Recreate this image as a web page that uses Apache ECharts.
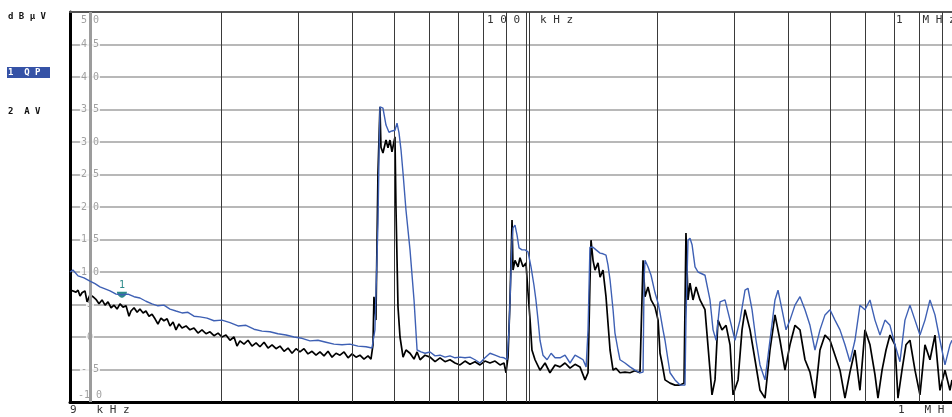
<!DOCTYPE html>
<html>
<head>
<meta charset="utf-8">
<script src="https://cdn.jsdelivr.net/npm/echarts@6/dist/echarts.min.js"></script>
<style>
  html, body { margin: 0; padding: 0; background: #fff; }
  #chart { width: 952px; height: 417px; }
</style>
</head>
<body>
<div id="chart"></div>
<script>
// Conducted emission scan, 9 kHz .. ~950 kHz, level in dBµV
// Each trace point: [frequency in kHz, level in dBµV]

// Quasi-peak trace (blue)
const qpTrace = [
  [9.00, 10.0], [9.14, 10.3], [9.39, 9.4], [9.69, 9.1], [10.00, 8.6], [10.27, 8.2], [10.54, 7.7], [10.83, 7.4],
  [11.12, 7.1], [11.48, 6.6], [11.84, 6.5], [12.23, 6.6], [12.62, 6.2], [13.02, 6.0], [13.44, 5.5], [13.88, 5.1],
  [14.32, 4.8], [14.78, 4.9], [15.26, 4.3], [15.75, 4.0], [16.26, 3.7], [16.78, 3.8], [17.32, 3.2], [17.88, 3.1],
  [18.56, 2.9], [19.25, 2.5], [20.08, 2.6], [20.95, 2.2], [21.86, 1.7], [22.80, 1.8], [23.78, 1.2], [24.81, 0.9],
  [25.87, 0.8], [26.99, 0.5], [28.16, 0.3], [29.38, 0.0], [30.65, -0.2], [31.96, -0.6], [33.34, -0.5], [34.78, -0.8],
  [36.28, -1.1], [37.85, -1.2], [39.47, -1.1], [41.18, -1.4], [42.96, -1.5], [44.34, -1.7], [45.04, 1.1], [45.52, 11.8],
  [45.77, 17.5], [46.01, 27.2], [46.25, 35.4], [46.74, 35.5], [46.99, 35.2], [47.75, 32.6], [48.51, 31.5], [49.28, 31.7],
  [50.07, 31.8], [50.61, 32.9], [51.15, 31.4], [51.69, 28.8], [52.25, 25.2], [53.07, 19.5], [54.21, 13.4], [55.37, 5.7],
  [56.27, -2.0], [57.45, -2.3], [58.69, -2.5], [60.26, -2.3], [61.88, -2.9], [63.52, -2.8], [65.21, -3.1], [66.96, -2.9],
  [68.74, -3.2], [70.58, -3.1], [72.48, -3.2], [74.40, -3.1], [76.41, -3.5], [78.45, -4.0], [80.54, -3.2], [82.70, -2.5],
  [84.93, -2.8], [87.19, -3.1], [89.05, -3.2], [90.48, -3.5], [91.44, 1.1], [91.93, 5.7], [92.91, 14.9], [93.40, 16.8],
  [94.38, 17.2], [95.38, 15.7], [96.40, 13.7], [97.94, 13.4], [99.51, 13.4], [101.1, 13.1], [102.7, 10.8], [104.3, 8.0],
  [105.4, 5.7], [106.6, 2.6], [107.7, -0.5], [109.4, -2.8], [111.8, -3.5], [114.2, -2.5], [116.6, -3.2], [119.7, -3.2],
  [122.9, -2.8], [126.2, -4.0], [129.6, -2.8], [133.0, -3.2], [135.2, -3.5], [137.4, -4.6], [138.8, 1.1], [140.2, 13.8],
  [142.5, 13.8], [144.8, 13.4], [147.9, 12.9], [150.2, 12.8], [152.6, 12.6], [154.2, 11.1], [155.9, 8.8], [158.4, 4.2],
  [160.0, 0.6], [162.6, -2.0], [164.3, -3.5], [168.7, -4.0], [173.2, -4.6], [177.8, -5.1], [182.6, -5.5], [185.6, -5.4],
  [186.6, 8.8], [187.5, 11.8], [190.5, 10.8], [193.6, 9.5], [197.7, 6.8], [200.9, 5.2], [203.0, 3.7], [206.2, 1.1],
  [208.4, -0.5], [211.7, -3.5], [214.0, -5.5], [219.7, -6.6], [225.6, -7.4], [231.6, -7.4], [232.8, 2.6], [235.3, 14.9],
  [237.8, 15.2], [240.4, 14.2], [244.2, 10.8], [248.1, 10.0], [250.7, 10.0], [257.4, 9.5], [264.3, 5.7], [268.6, 1.1],
  [272.9, -0.5], [278.7, 5.4], [286.1, 5.7], [293.8, 2.6], [301.6, -0.5], [309.7, 2.6], [318.0, 7.2], [323.0, 7.5],
  [330.0, 4.2], [337.0, -0.5], [344.2, -4.3], [353.4, -6.6], [362.8, -0.5], [372.5, 5.7], [378.5, 7.2], [386.6, 4.2],
  [394.9, 1.1], [403.2, 2.6], [414.0, 4.9], [425.1, 6.2], [436.5, 4.2], [448.1, 1.8], [460.1, -2.0], [472.4, 1.1],
  [485.1, 3.4], [498.1, 4.2], [511.4, 2.6], [525.1, 1.1], [539.1, -1.2], [553.5, -3.8], [568.3, -0.5], [583.5, 4.9],
  [599.1, 4.2], [615.2, 5.7], [631.6, 2.6], [648.5, 0.3], [665.9, 2.6], [683.7, 1.8], [702.0, -1.2], [720.7, -3.8],
  [740.0, 2.6], [759.8, 4.9], [780.2, 2.6], [801.0, 0.3], [822.5, 2.6], [844.5, 5.7], [867.1, 3.4], [890.2, -0.5],
  [914.1, -4.3], [938.5, -1.2], [948.7, -0.5]
];

// Average trace (black)
const avTrace = [
  [9.00, 4.9], [9.05, 7.2], [9.14, 7.5], [9.29, 6.9], [9.39, 7.2], [9.49, 6.3], [9.59, 6.8], [9.74, 7.1],
  [9.85, 5.4], [10.00, 6.5], [10.16, 6.2], [10.32, 5.8], [10.49, 5.1], [10.66, 5.7], [10.83, 4.9], [11.00, 5.4],
  [11.18, 4.5], [11.36, 4.9], [11.54, 4.3], [11.72, 5.1], [11.91, 4.6], [12.10, 4.8], [12.29, 3.2], [12.42, 4.0],
  [12.62, 4.5], [12.83, 3.8], [13.02, 4.3], [13.24, 3.7], [13.44, 4.0], [13.66, 3.2], [13.88, 3.5], [14.10, 2.8],
  [14.32, 2.0], [14.55, 2.9], [14.78, 2.5], [15.03, 2.8], [15.26, 1.7], [15.51, 2.3], [15.75, 1.1], [16.00, 2.0],
  [16.26, 1.4], [16.61, 1.7], [16.96, 1.1], [17.32, 1.4], [17.69, 0.6], [18.07, 1.1], [18.46, 0.5], [18.85, 0.8],
  [19.25, 0.2], [19.67, 0.6], [20.08, 0.0], [20.51, 0.3], [20.95, -0.5], [21.40, 0.0], [21.74, -1.4], [22.08, -0.6],
  [22.56, -1.1], [23.04, -0.5], [23.53, -1.4], [24.04, -0.9], [24.54, -1.5], [25.08, -0.8], [25.61, -1.7], [26.16, -1.2],
  [26.72, -1.8], [27.28, -1.4], [27.87, -2.2], [28.46, -1.7], [29.07, -2.5], [29.69, -1.8], [30.31, -2.3], [30.97, -1.8],
  [31.63, -2.6], [32.31, -2.2], [33.00, -2.8], [33.69, -2.3], [34.42, -2.9], [35.16, -2.2], [35.91, -3.1], [36.68, -2.5],
  [37.45, -2.8], [38.26, -2.3], [39.08, -3.2], [39.91, -2.6], [40.76, -3.1], [41.61, -2.8], [42.51, -3.4], [43.42, -2.9],
  [44.11, -3.4], [44.58, -1.2], [44.81, 6.2], [45.28, 2.6], [45.77, 25.2], [46.25, 35.4], [46.50, 29.2], [46.99, 28.3],
  [47.75, 30.3], [48.26, 29.1], [48.76, 30.3], [49.28, 28.5], [50.07, 30.8], [50.33, 20.0], [50.88, 4.6], [51.42, 0.0],
  [52.25, -3.1], [53.07, -2.0], [54.21, -2.5], [55.37, -3.4], [56.27, -2.3], [57.17, -3.5], [58.69, -2.8], [60.26, -3.1],
  [61.88, -3.8], [63.52, -3.2], [65.21, -3.8], [66.96, -3.5], [68.74, -4.0], [70.58, -4.3], [72.48, -3.7], [74.40, -4.2],
  [76.41, -3.8], [78.45, -4.3], [80.54, -3.7], [82.70, -4.0], [84.93, -3.7], [87.19, -4.3], [89.05, -4.0], [90.0, -5.5],
  [90.96, -3.1], [91.93, 5.7], [92.91, 18.0], [93.40, 10.3], [94.38, 11.8], [95.89, 10.8], [96.90, 12.2], [98.46, 10.8],
  [100.0, 11.4], [101.1, 6.8], [102.2, 2.6], [103.2, -2.0], [104.9, -3.5], [107.7, -5.1], [110.6, -4.0], [113.5, -5.5],
  [116.6, -4.3], [119.7, -4.6], [122.9, -4.0], [126.2, -4.8], [129.6, -4.2], [133.0, -4.6], [136.6, -6.6], [138.8, -5.5],
  [140.2, 8.3], [141.0, 14.9], [142.5, 11.8], [144.0, 10.3], [146.3, 11.4], [147.9, 9.2], [150.2, 10.3], [152.6, 6.2],
  [155.9, -2.0], [158.4, -5.1], [160.9, -4.8], [164.3, -5.5], [168.7, -5.4], [173.2, -5.5], [177.8, -5.2], [182.6, -5.5],
  [185.6, 11.8], [187.5, 6.2], [190.5, 7.7], [193.6, 5.7], [197.7, 4.6], [200.9, 2.6], [203.0, -2.5], [205.1, -4.0],
  [208.4, -6.6], [214.0, -7.1], [219.7, -7.4], [225.6, -7.4], [230.4, -7.1], [232.8, 16.0], [235.3, 5.7], [237.8, 8.3],
  [241.6, 5.7], [245.5, 7.7], [250.7, 5.7], [257.4, 4.2], [264.3, -5.1], [267.1, -8.9], [271.4, -6.6], [275.7, 2.6],
  [281.6, 1.1], [287.7, 1.8], [293.8, -1.2], [298.5, -8.9], [306.5, -6.6], [313.0, 1.1], [318.0, 4.2], [326.5, 1.1],
  [335.2, -3.5], [344.2, -8.2], [353.4, -9.4], [362.8, -2.0], [372.5, 3.4], [382.5, -0.5], [392.7, -5.1], [403.2, -1.2],
  [414.0, 1.8], [425.1, 1.1], [436.5, -3.5], [448.1, -5.4], [460.1, -9.4], [472.4, -2.0], [485.1, 0.3], [498.1, -0.5],
  [511.4, -2.8], [525.1, -5.1], [539.1, -9.4], [553.5, -5.4], [568.3, -2.0], [583.5, -8.2], [599.1, 1.1], [615.2, -1.2],
  [631.6, -5.8], [641.7, -9.4], [655.7, -5.1], [669.6, -2.0], [683.7, 0.3], [702.0, -1.2], [713.2, -9.4], [728.5, -5.1],
  [744.0, -1.2], [759.8, -0.5], [780.2, -5.1], [801.0, -8.9], [822.5, -1.2], [844.5, -3.5], [867.1, 0.3], [890.2, -8.2],
  [914.1, -5.1], [938.5, -8.2], [948.7, -6.6]
];

// Level scale ticks (dBµV)
const levelTicks = [50, 45, 40, 35, 30, 25, 20, 15, 10, 5, 0, -5, -10];
// Frequency grid rules (kHz)
const gridFreqs = [20, 30, 40, 50, 60, 70, 80, 90, 100, 101.6, 200, 300, 400, 500, 600, 700, 800, 900];
// Frequency at which the level scale is printed (kHz)
const scaleFreq = 10;
// Displayed span (kHz)
const spanStart = 9;
const spanStop = 948.7;
// Marker 1 sits on the QP trace at this frequency (kHz)
const markerFreq = 11.84;

const chart = echarts.init(document.getElementById('chart'), null, { renderer: 'canvas' });

const markerPoint = qpTrace.find(p => p[0] === markerFreq);

function spaced(v) {
  const s = String(Math.abs(v)).split('').join(' ');
  if (v < 0) return s.length > 1 ? '-' + s : '- ' + s;
  return s;
}

const monoFont = 'DejaVu Sans Mono';

const option = {
  animation: false,
  backgroundColor: '#ffffff',
  grid: { left: 70, top: 12, right: 0, bottom: 15, containLabel: false },
  xAxis: [
    {
      type: 'log', logBase: 10, min: spanStart, max: spanStop,
      axisLine: { show: true, onZero: false, lineStyle: { color: '#000', width: 3 } },
      axisTick: { show: false }, axisLabel: { show: false }, splitLine: { show: false }
    },
    {
      type: 'log', logBase: 10, min: spanStart, max: spanStop, position: 'top',
      axisLine: { show: true, onZero: false, lineStyle: { color: '#555', width: 2 } },
      axisTick: { show: false }, axisLabel: { show: false }, splitLine: { show: false }
    }
  ],
  yAxis: {
    type: 'value', min: -10, max: 50, interval: 5,
    axisLine: { show: true, onZero: false, lineStyle: { color: '#000', width: 3 } },
    axisTick: { show: false }, axisLabel: { show: false },
    splitLine: { show: true, lineStyle: { color: '#b8b8b8', width: 2 } }
  },
  series: [
    {
      // frequency grid rules
      type: 'line', data: [], z: 1, silent: true,
      markLine: {
        silent: true, symbol: ['none', 'none'], label: { show: false },
        lineStyle: { color: '#3a3a3a', width: 1, type: 'solid' },
        data: gridFreqs.map(f => ({ xAxis: f }))
          .concat([{ xAxis: scaleFreq, lineStyle: { color: '#9c9c9c', width: 3, type: 'solid' } }])
      }
    },
    {
      // level scale labels printed inside the plot
      type: 'scatter', z: 3, silent: true, symbolSize: 2,
      itemStyle: { color: 'rgba(0,0,0,0)' },
      data: levelTicks.map(v => ({
        value: [scaleFreq, v],
        label: { offset: v === 50 ? [0, 8] : (v === -10 ? [0, -7] : [0, 0]) }
      })),
      label: {
        show: true, position: 'inside',
        formatter: p => spaced(p.value[1]),
        color: '#8a8a8a', fontFamily: monoFont, fontSize: 10,
        backgroundColor: '#ffffff', padding: [1, 1, 0, 1]
      }
    },
    {
      name: 'AV', type: 'line', z: 4, data: avTrace,
      showSymbol: false, symbol: 'none',
      lineStyle: { color: '#000000', width: 1.7 }
    },
    {
      name: 'QP', type: 'line', z: 5, data: qpTrace,
      showSymbol: false, symbol: 'none',
      lineStyle: { color: '#3e60b4', width: 1.4 },
      markPoint: {
        symbol: 'path://M0,0 L10,0 C10,5 6,7 5,7 C4,7 0,5 0,0 Z',
        symbolSize: [10, 6], symbolOffset: [0, 0],
        itemStyle: { color: '#2d8a8a' },
        label: { show: true, position: 'top', distance: 1, formatter: '1', color: '#2d8a8a', fontFamily: monoFont, fontSize: 10 },
        data: [{ coord: markerPoint }]
      }
    }
  ],
  graphic: [
    { type: 'text', x: 8, y: 12, style: { text: 'd B µ V', font: 'bold 9px ' + monoFont, fill: '#111' } },
    { type: 'rect', shape: { x: 7, y: 67, width: 43, height: 11 }, style: { fill: '#3552a6' } },
    { type: 'text', x: 8, y: 68, style: { text: '1  Q P', font: 'bold 9px ' + monoFont, fill: '#fff' } },
    { type: 'text', x: 8, y: 107, style: { text: '2  A V', font: 'bold 9px ' + monoFont, fill: '#111' } },
    { type: 'text', x: 487, y: 15, style: { text: '1 0 0   k H z', font: '11px ' + monoFont, fill: '#333' } },
    { type: 'text', x: 896, y: 15, style: { text: '1   M H z', font: '11px ' + monoFont, fill: '#333' } },
    { type: 'text', x: 70, y: 405, style: { text: '9   k H z', font: '11px ' + monoFont, fill: '#333' } },
    { type: 'text', x: 898, y: 405, style: { text: '1   M H z', font: '11px ' + monoFont, fill: '#333' } }
  ]
};

chart.setOption(option);
</script>
</body>
</html>
